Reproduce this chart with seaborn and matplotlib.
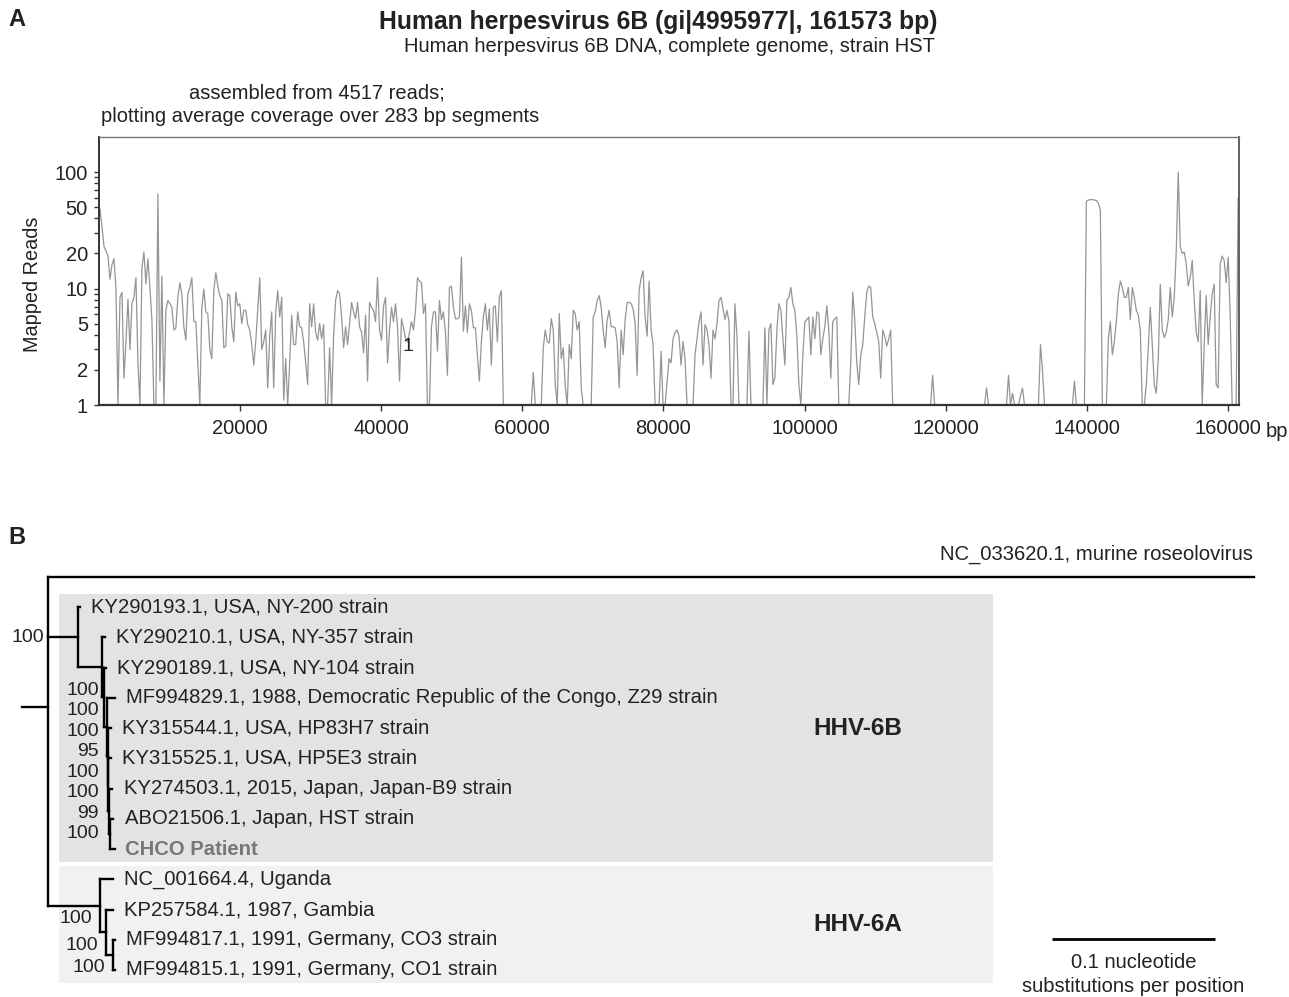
import numpy as np
import pandas as pd
import matplotlib.pyplot as plt
import seaborn as sns
from matplotlib.patches import Rectangle
from matplotlib.ticker import NullLocator

# ---------------- Panel A data: mean coverage per 283 bp segment ----------------
GENOME_BP = 161573
SEG_BP = 283

seg_000_099 = [48, 34, 23, 21, 19, 12, 16, 18, 10, 1,
               8.4, 9.3, 1.7, 3.5, 8.1, 3.0, 7.4, 8.4, 12.4, 2.3,
               1, 15, 20.6, 10.9, 18, 10.2, 5.4, 1, 1, 65,
               1.6, 12.8, 1, 6.5, 7.9, 7.4, 6.9, 4.4, 4.6, 8.4,
               11.2, 9.0, 4.7, 3.6, 9.0, 10.2, 12.4, 5.2, 5.2, 2.3,
               1, 6.9, 9.9, 6.3, 6.1, 3.0, 2.5, 9.6, 13.7, 10.5,
               8.7, 7.9, 3.1, 3.2, 9.0, 8.7, 4.7, 3.5, 9.3, 7.1,
               7.4, 5.0, 6.5, 6.5, 4.9, 4.4, 3.3, 2.2, 3.5, 6.5,
               12.4, 3.0, 3.5, 4.4, 1.4, 3.9, 6.3, 1.4, 6.3, 9.6,
               5.7, 8.4, 1.1, 2.5, 1, 2.3, 5.9, 3.3, 3.3, 6.3]
seg_100_199 = [4.7, 4.6, 3.5, 2.3, 1.5, 7.4, 4.7, 7.4, 4.2, 3.6,
               5.0, 3.7, 4.9, 1, 1, 3.1, 1, 3.9, 7.9, 9.6,
               9.0, 5.7, 3.1, 4.7, 3.3, 5.0, 7.6, 6.3, 5.5, 7.6,
               4.7, 4.2, 2.8, 5.9, 1.6, 7.6, 6.9, 6.5, 5.2, 12.4,
               4.4, 3.6, 7.1, 8.4, 2.3, 4.4, 6.9, 5.2, 7.4, 4.7,
               1.6, 5.5, 4.6, 3.7, 3.5, 4.2, 5.2, 4.4, 6.5, 12.4,
               11.6, 11.2, 6.1, 7.4, 1, 1, 4.7, 6.3, 6.3, 2.9,
               7.9, 5.4, 6.3, 4.2, 1.8, 10.2, 10.5, 6.9, 5.5, 5.5,
               5.7, 18.6, 4.3, 7.1, 4.2, 7.4, 6.5, 4.6, 4.6, 2.7,
               1.6, 3.5, 5.7, 7.4, 4.4, 6.7, 2.2, 6.9, 7.1, 3.5]
seg_200_299 = [8.4, 9.6, 1, 1, 1, 1, 1, 1, 1, 1,
               1, 1, 1, 1, 1, 1, 1, 1.9, 1, 1,
               1, 1, 3.1, 4.4, 3.5, 3.4, 5.5, 4.4, 1.5, 1,
               6.1, 2.5, 3.1, 1.45, 1, 3.3, 2.5, 6.5, 6.1, 4.4,
               5.2, 1.4, 1, 1, 1, 1, 1, 5.7, 6.3, 7.9,
               8.7, 6.9, 4.4, 3.1, 5.4, 6.5, 4.7, 4.7, 4.6, 3.5,
               1.4, 4.4, 2.7, 5.4, 7.6, 7.6, 7.4, 6.7, 5.0, 1.8,
               9.6, 12.4, 14.2, 5.7, 3.9, 11.6, 4.4, 3.3, 1, 1,
               1, 2.9, 1, 1, 1.6, 2.5, 2.3, 3.7, 4.2, 4.4,
               3.9, 2.2, 3.5, 2.5, 1, 1, 1, 1, 2.7, 3.7]
seg_300_399 = [5.2, 6.3, 2.2, 4.9, 4.4, 3.3, 1.7, 4.4, 3.7, 5.0,
               7.9, 8.4, 6.7, 5.4, 6.5, 5.2, 1, 1, 7.4, 3.9,
               1, 1, 1, 1, 1, 4.3, 1, 1, 1, 1,
               1, 1, 1, 4.6, 1, 4.4, 5.0, 1.5, 1.7, 4.4,
               7.4, 6.5, 3.7, 2.2, 7.9, 8.4, 10.2, 7.4, 6.5, 3.9,
               1.5, 1, 2.7, 5.2, 5.4, 5.7, 2.7, 5.7, 3.7, 6.3,
               6.1, 2.7, 3.7, 4.7, 7.1, 4.4, 1.7, 5.2, 5.5, 5.7,
               1, 1, 1, 1, 1, 1, 2.3, 9.3, 5.4, 2.3,
               1.5, 2.7, 3.3, 5.7, 9.3, 10.5, 10.2, 5.7, 5.0, 4.2,
               3.5, 1.7, 4.4, 3.9, 3.2, 3.7, 4.4, 1, 1, 1]
seg_400_499 = [1, 1, 1, 1, 1, 1, 1, 1, 1, 1,
               1, 1, 1, 1, 1, 1, 1, 1.8, 1, 1,
               1, 1, 1, 1, 1, 1, 1, 1, 1, 1,
               1, 1, 1, 1, 1, 1, 1, 1, 1, 1,
               1, 1, 1, 1, 1.4, 1, 1, 1, 1, 1,
               1, 1, 1, 1, 1, 1.8, 1, 1.26, 1, 1,
               1, 1.2, 1.4, 1, 1, 1, 1, 1, 1, 1,
               1, 3.3, 2.0, 1, 1, 1, 1, 1, 1, 1,
               1, 1, 1, 1, 1, 1, 1, 1, 1.6, 1,
               1, 1, 1, 1, 56, 57.5, 58, 58, 57.5, 57]
seg_500_570 = [54, 47, 1, 1, 1, 3.7, 5.2, 2.7, 3.5, 5.2,
               9.0, 11.6, 10.2, 8.4, 8.4, 10.2, 5.4, 10.2, 8.4, 6.5,
               5.9, 4.4, 1, 1, 1.5, 3.1, 6.9, 3.3, 1.5, 1.26,
               2.5, 10.9, 4.4, 3.8, 4.2, 5.4, 10.2, 5.7, 8.4, 21,
               100, 23, 20, 20.6, 16.3, 10.5, 12.4, 17.5, 7.9, 4.2,
               3.5, 9.6, 1, 3.3, 8.7, 3.3, 5.7, 9.0, 10.9, 1.5,
               1.4, 16.3, 19, 17.5, 11.2, 18.6, 6.1, 1, 1, 1, 60]

y_ticks = [1, 2, 3, 4, 5, 6, 7, 8, 9, 10, 20, 30, 40, 50, 60, 70, 80, 90, 100]
y_labeled = [1, 2, 5, 10, 20, 50, 100]
x_ticks = [20000, 40000, 60000, 80000, 100000, 120000, 140000, 160000]

# ---------------- Panel B data: phylogeny ----------------
# internal nodes: parent index, branch length (subst./site), bootstrap support
node_parent = [-1, 0, 1, 2, 3, 4, 5, 6, 7, 0, 9, 10]
node_length = [0.016, 0.0184, 0.0147, 0.0014, 0.0015, 0.0006, 0.0003, 0.0006,
               0.0006, 0.0319, 0.0037, 0.0043]
node_support = [100, 100, 100, 100, 95, 100, 100, 99, 100, 100, 100, 100]

tip_labels = ["NC_033620.1, murine roseolovirus",
              "KY290193.1, USA, NY-200 strain",
              "KY290210.1, USA, NY-357 strain",
              "KY290189.1, USA, NY-104 strain",
              "MF994829.1, 1988, Democratic Republic of the Congo, Z29 strain",
              "KY315544.1, USA, HP83H7 strain",
              "KY315525.1, USA, HP5E3 strain",
              "KY274503.1, 2015, Japan, Japan-B9 strain",
              "ABO21506.1, Japan, HST strain",
              "CHCO Patient",
              "NC_001664.4, Uganda",
              "KP257584.1, 1987, Gambia",
              "MF994817.1, 1991, Germany, CO3 strain",
              "MF994815.1, 1991, Germany, CO1 strain"]
tip_parent = [0, 1, 2, 3, 4, 5, 6, 7, 8, 8, 9, 10, 11, 11]
tip_length = [0.740, 0.0012, 0.0020, 0.0008, 0.0050, 0.0020, 0.0015, 0.0020,
              0.0020, 0.0030, 0.0080, 0.0043, 0.0010, 0.0010]

clade_names = ["HHV-6B", "HHV-6A"]
clade_tips = [(1, 9), (10, 13)]
clade_nodes = [[1, 2, 3, 4, 5, 6, 7, 8], [9, 10, 11]]
clade_colors = ["#e3e3e3", "#f1f1f1"]
SCALE_LEN = 0.1

# ---------------- figure ----------------
sns.set_style("white")
plt.rcParams["font.family"] = ["Liberation Sans", "DejaVu Sans"]
TXT = "#222222"

W, H = 1289, 997
fig = plt.figure(figsize=(W / 100, H / 100), dpi=100)


def fx(px):
    return px / W


def fy(py):
    return 1 - py / H


# ---------------- Panel A ----------------
reads = np.array(seg_000_099 + seg_100_199 + seg_200_299 + seg_300_399
                 + seg_400_499 + seg_500_570, dtype=float)
cov = pd.DataFrame({"position": np.arange(len(reads)) * SEG_BP + SEG_BP / 2,
                    "reads": reads})

ax = fig.add_axes([fx(99), fy(405), fx(1239) - fx(99), fy(137) - fy(405)])
sns.lineplot(data=cov, x="position", y="reads", ax=ax, color="#959595",
             linewidth=0.9, estimator=None)
ax.set_yscale("log")
ax.set_xlim(0, GENOME_BP)
ax.set_ylim(1, 200)
ax.set_yticks(y_ticks)
ax.set_yticklabels([str(t) if t in y_labeled else "" for t in y_ticks])
ax.yaxis.set_minor_locator(NullLocator())
ax.set_xticks(x_ticks)
ax.set_xticklabels([str(t) for t in x_ticks])
ax.tick_params(axis="both", direction="out", labelsize=14.5, colors="#333333",
               labelcolor=TXT, width=1, left=True, bottom=True)
ax.tick_params(axis="y", length=3.5, pad=4.5)
ax.tick_params(axis="x", length=4, pad=6)
ax.set_xlabel("")
ax.set_ylabel("Mapped Reads", fontsize=14.3, color=TXT)
ax.yaxis.set_label_coords(-0.050, 0.45)
for side, col, lw in [("left", "#333333", 1.4), ("bottom", "#333333", 1.6),
                      ("top", "#777777", 1.0), ("right", "#555555", 1.3)]:
    ax.spines[side].set_color(col)
    ax.spines[side].set_linewidth(lw)
ax.annotate("bp", xy=(x_ticks[-1], 0), xycoords=("data", "axes fraction"),
            xytext=(27, -12.5), textcoords="offset points", ha="left", va="top",
            fontsize=14.5, color=TXT)
ax.text(43830, 3.15, "1", fontsize=14, color=TXT, ha="center", va="center")

fig.text(fx(17), fy(20), "A", fontsize=17, fontweight="bold", ha="center",
         va="center", color=TXT)
fig.text(fx(17), fy(537), "B", fontsize=17, fontweight="bold", ha="center",
         va="center", color=TXT)
fig.text(fx(658), fy(22), "Human herpesvirus 6B (gi|4995977|, 161573 bp)",
         fontsize=17.8, fontweight="bold", ha="center", va="center", color=TXT)
fig.text(fx(669), fy(47), "Human herpesvirus 6B DNA, complete genome, strain HST",
         fontsize=14.5, ha="center", va="center", color=TXT)
fig.text(fx(317), fy(93), "assembled from 4517 reads;", fontsize=14.5,
         ha="center", va="center", color=TXT)
fig.text(fx(320), fy(117), "plotting average coverage over 283 bp segments",
         fontsize=14.5, ha="center", va="center", color=TXT)

# ---------------- Panel B ----------------
X0_PX, PX_PER_SUB = 22, 1630
ROW0_PX, ROW_PX = 577, 30.23
axt = fig.add_axes([0, 0, 1, fy(540)])
axt.set_xlim(-X0_PX / PX_PER_SUB, (W - X0_PX) / PX_PER_SUB)
axt.set_ylim((H - ROW0_PX) / ROW_PX, (540 - ROW0_PX) / ROW_PX)
axt.axis("off")


def sx(px):
    return (px - X0_PX) / PX_PER_SUB


def sy(py):
    return (py - ROW0_PX) / ROW_PX


n_int = len(node_parent)
node_x = np.zeros(n_int)
node_x[0] = node_length[0]
for i in range(1, n_int):
    node_x[i] = node_x[node_parent[i]] + node_length[i]
tip_x = np.array([node_x[p] + l for p, l in zip(tip_parent, tip_length)])
tip_y = np.arange(len(tip_labels), dtype=float)

child_ys = [[] for _ in range(n_int)]
for t, p in enumerate(tip_parent):
    child_ys[p].append(tip_y[t])
node_y = np.zeros(n_int)
for i in range(n_int - 1, 0, -1):
    node_y[i] = (min(child_ys[i]) + max(child_ys[i])) / 2
    child_ys[node_parent[i]].append(node_y[i])
node_y[0] = np.mean(child_ys[0])

# clade boxes
for name, (t0, t1), col in zip(clade_names, clade_tips, clade_colors):
    axt.add_patch(Rectangle((sx(59), t0 - 0.43), sx(993) - sx(59), t1 - t0 + 0.86,
                            facecolor=col, edgecolor="none", zorder=0))
    axt.text(sx(858), (t0 + t1) / 2, name, fontsize=17.5, fontweight="bold",
             ha="center", va="center", color=TXT)

lk = dict(color="black", lw=1.7, solid_capstyle="projecting", zorder=3)
axt.plot([0, node_x[0]], [node_y[0], node_y[0]], **lk)
for i in range(1, n_int):
    axt.plot([node_x[node_parent[i]], node_x[i]], [node_y[i], node_y[i]], **lk)
for i in range(n_int):
    axt.plot([node_x[i], node_x[i]], [min(child_ys[i]), max(child_ys[i])], **lk)
for t, p in enumerate(tip_parent):
    axt.plot([node_x[p], tip_x[t]], [tip_y[t], tip_y[t]], **lk)

# tip labels
TIP_FS = 14.6
for t, lab in enumerate(tip_labels):
    if t == 0:
        axt.annotate(lab, (tip_x[t], tip_y[t]), xytext=(-1, 16),
                     textcoords="offset points", ha="right", va="center",
                     fontsize=TIP_FS, color=TXT)
    elif lab == "CHCO Patient":
        axt.annotate(lab, (tip_x[t], tip_y[t]), xytext=(7, 0),
                     textcoords="offset points", ha="left", va="center",
                     fontsize=TIP_FS, fontweight="bold", color="#777777")
    else:
        axt.annotate(lab, (tip_x[t], tip_y[t]), xytext=(8, 0),
                     textcoords="offset points", ha="left", va="center",
                     fontsize=TIP_FS, color=TXT)

# bootstrap support
bs = dict(textcoords="offset points", ha="right", va="center", fontsize=14,
          color=TXT)
axt.annotate(str(node_support[0]), (node_x[0], node_y[1]), xytext=(-3, 0), **bs)
col6b = clade_nodes[0]
for k, n in enumerate(col6b):
    yk = node_y[col6b[-1]] - (len(col6b) - 1 - k) * 0.68
    axt.annotate(str(node_support[n]), (node_x[col6b[-1]], yk), xytext=(-8, 0), **bs)
for n in clade_nodes[1]:
    axt.annotate(str(node_support[n]), (node_x[n], node_y[n] + 0.43),
                 xytext=(-6, 0), **bs)

# scale bar
axt.plot([sx(1052), sx(1052) + SCALE_LEN], [sy(939), sy(939)], color="black",
         lw=2, solid_capstyle="butt")
axt.text(sx(1052) + SCALE_LEN / 2, sy(962), "0.1 nucleotide", fontsize=14.5,
         ha="center", va="center", color=TXT)
axt.text(sx(1052) + SCALE_LEN / 2, sy(986), "substitutions per position",
         fontsize=14.5, ha="center", va="center", color=TXT)

fig.savefig("out.png", dpi=100)
